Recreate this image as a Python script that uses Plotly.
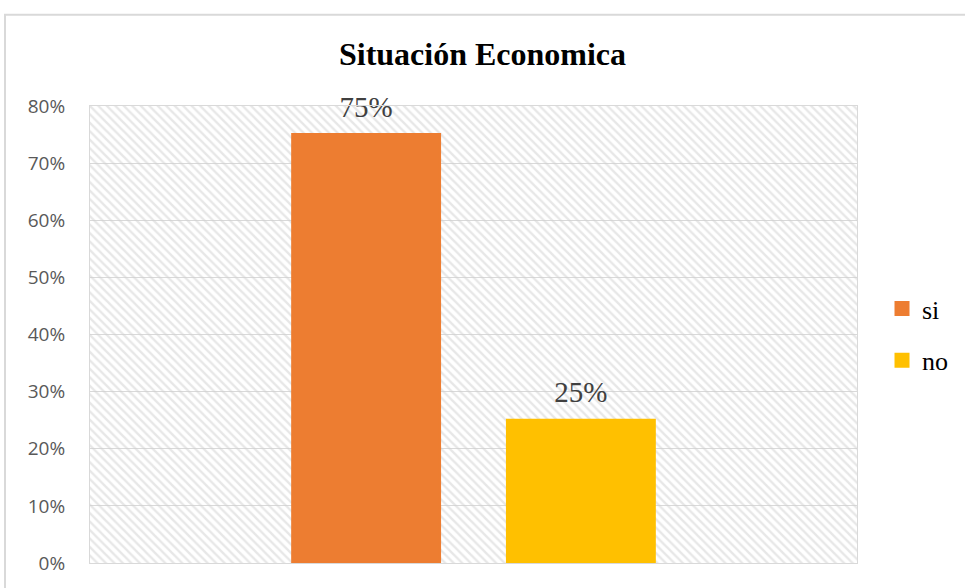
import plotly.graph_objects as go

title = "Situación Economica"
series_names = ["si", "no"]
series_values = [0.75, 0.25]
series_colors = ["#ED7D31", "#FFC000"]
category = [""]
y_ticks = [0, 0.1, 0.2, 0.3, 0.4, 0.5, 0.6, 0.7, 0.8]

SERIF = "Liberation Serif, Times New Roman, serif"

fig = go.Figure()

# hatched plot-area background (decorative, on base axis)
fig.add_trace(go.Bar(
    x=[0], y=[0.8], width=[1], xaxis="x", yaxis="y",
    marker=dict(color="rgba(0,0,0,0)", line=dict(width=0),
                pattern=dict(shape="\\", fgcolor="#d0d0d0", bgcolor="rgba(0,0,0,0)",
                             size=6, solidity=0.4)),
    showlegend=False, hoverinfo="skip",
))

for name, val, col in zip(series_names, series_values, series_colors):
    fig.add_trace(go.Bar(
        x=category, y=[val], name=name, legendgroup=name, xaxis="x2", yaxis="y",
        marker=dict(color=col, line=dict(width=3, color=col)),
        text=[val],
        texttemplate="<span style='font-size:29px'>%{y:.0%}</span><br> ",
        textposition="outside",
        textfont=dict(family=SERIF, size=10, color="#404040"),
        cliponaxis=False,
    ))

fig.update_layout(
    width=965, height=588,
    margin=dict(l=90, r=108, t=106, b=21),
    paper_bgcolor="white", plot_bgcolor="white",
    barmode="group", bargap=0.44, bargroupgap=0.316,
    title=dict(text="<b>" + title + "</b>", x=0.5, xanchor="center", y=0.908, yanchor="middle",
               font=dict(family=SERIF, size=32, color="black")),
    xaxis=dict(range=[-0.5, 0.5], showticklabels=False, showgrid=False, zeroline=False,
               showline=True, mirror=True, linecolor="#d9d9d9", linewidth=1, fixedrange=True),
    xaxis2=dict(overlaying="x", showticklabels=False, showgrid=False, zeroline=False,
                showline=False),
    yaxis=dict(range=[0, 0.8], tickvals=y_ticks, tickformat=".0%", showgrid=True,
               gridcolor="#d9d9d9", gridwidth=1, zeroline=False, showline=True, mirror=True,
               linecolor="#d9d9d9", linewidth=1, ticks="", ticklen=0, ticklabelstandoff=20,
               tickfont=dict(family="Open Sans", size=19, color="#595959")),
    legend=dict(x=1.0326, xanchor="left", y=0.5, yanchor="middle",
                font=dict(family=SERIF, size=26, color="black"),
                tracegroupgap=15, itemwidth=30),
    showlegend=True,
    shapes=[dict(type="rect", xref="paper", yref="paper",
                 x0=-85/767, x1=1.2, y0=-0.2, y1=1 + 92/461,
                 line=dict(color="#d9d9d9", width=2), fillcolor="rgba(0,0,0,0)", layer="below")],
)

fig.write_html("out.html")
